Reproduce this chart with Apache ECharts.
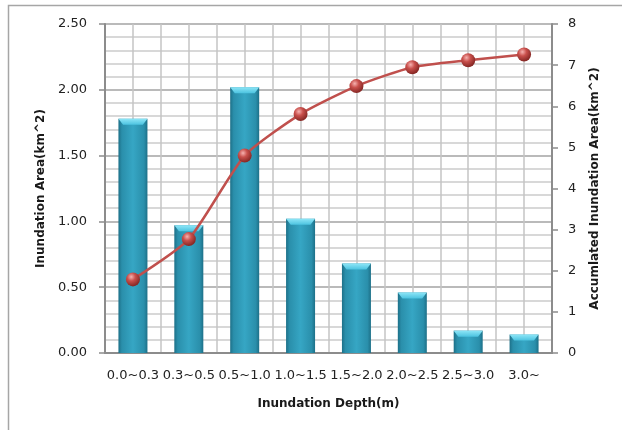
<!DOCTYPE html>
<html><head><meta charset="utf-8">
<script src="https://cdn.jsdelivr.net/npm/echarts@6/dist/echarts.min.js"></script>
<style>html,body{margin:0;padding:0;background:#fff}#c{width:622px;height:430px}</style>
</head><body><div id="c"></div>
<script>
const categories = ['0.0~0.3','0.3~0.5','0.5~1.0','1.0~1.5','1.5~2.0','2.0~2.5','2.5~3.0','3.0~'];
const areaValues = [1.78, 0.97, 2.02, 1.02, 0.68, 0.46, 0.17, 0.14];
const accumulatedValues = [1.79, 2.77, 4.80, 5.81, 6.49, 6.95, 7.12, 7.26];
const leftTicks = [0, 0.5, 1.0, 1.5, 2.0, 2.5];
const rightTicks = [0, 1, 2, 3, 4, 5, 6, 7, 8];

const font = 'DejaVu Sans';
const chart = echarts.init(document.getElementById('c'), null, {renderer: 'canvas'});
const barW = 29;
chart.setOption({
  animation: false,
  backgroundColor: '#fff',
  graphic: [{type: 'rect', shape: {x: 8.5, y: 5.5, width: 700, height: 500}, style: {fill: 'none', stroke: '#a6a6a6', lineWidth: 1.5}, silent: true}],
  grid: {left: 105, right: 70, top: 24, bottom: 77},
  xAxis: [{
    type: 'category', data: categories, boundaryGap: true,
    name: 'Inundation Depth(m)', nameLocation: 'middle', nameGap: 45,
    nameTextStyle: {fontFamily: font, fontWeight: 'bold', fontSize: 12, color: '#1a1a1a'},
    axisLine: {lineStyle: {color: '#8c8c8c', width: 2}},
    axisTick: {show: false},
    axisLabel: {interval: 0, margin: 16, fontFamily: font, fontSize: 13, color: '#222'},
    splitLine: {show: false}
  }, {
    type: 'value', min: 0, max: 16, interval: 1, show: true, position: 'top',
    axisLine: {show: false}, axisTick: {show: false}, axisLabel: {show: false},
    splitLine: {show: true, lineStyle: {color: '#c4c4c4', width: 1.5}}
  }],
  yAxis: [{
    type: 'value', min: 0, max: 2.5, interval: 0.5,
    name: 'Inundation Area(km^2)', nameLocation: 'middle', nameGap: 56, nameRotate: 90,
    nameTextStyle: {fontFamily: font, fontWeight: 'bold', fontSize: 12, color: '#1a1a1a'},
    axisLine: {show: true, lineStyle: {color: '#8c8c8c', width: 2}},
    axisTick: {show: true, length: 6, lineStyle: {color: '#8c8c8c', width: 1.5}},
    axisLabel: {margin: 18, fontFamily: font, fontSize: 13, color: '#222', formatter: v => v.toFixed(2)},
    splitLine: {show: true, lineStyle: {color: '#a3a3a3', width: 1.5}},
    minorTick: {show: false, splitNumber: 5},
    minorSplitLine: {show: true, lineStyle: {color: '#cccccc', width: 1.5}}
  }, {
    type: 'value', min: 0, max: 8, interval: 1, position: 'right',
    name: 'Accumlated Inundation Area(km^2)', nameLocation: 'middle', nameGap: 37, nameRotate: 90,
    nameTextStyle: {fontFamily: font, fontWeight: 'bold', fontSize: 12, color: '#1a1a1a', verticalAlign: 'top'},
    axisLine: {show: true, lineStyle: {color: '#8c8c8c', width: 2}},
    axisTick: {show: true, length: 6, lineStyle: {color: '#8c8c8c', width: 1.5}},
    axisLabel: {margin: 16, fontFamily: font, fontSize: 13, color: '#222'},
    splitLine: {show: false}
  }],
  series: [{
    type: 'bar', data: areaValues, barWidth: barW, yAxisIndex: 0, z: 2,
    itemStyle: {
      color: new echarts.graphic.LinearGradient(0, 0, 1, 0, [
        {offset: 0, color: '#1d7088'}, {offset: 0.12, color: '#2a8fab'},
        {offset: 0.5, color: '#36a6c4'}, {offset: 0.88, color: '#2a8fab'}, {offset: 1, color: '#1d7088'}
      ])
    }
  }, {
    type: 'pictorialBar', data: areaValues, yAxisIndex: 0, z: 3,
    symbol: 'path://M0,0L100,0L84,100L16,100Z', symbolSize: [barW, 6],
    symbolPosition: 'end', symbolOffset: [0, 0],
    itemStyle: {color: new echarts.graphic.LinearGradient(0, 0, 0, 1, [
      {offset: 0, color: '#8ee6f7'}, {offset: 1, color: '#4cc3e0'}
    ])}
  }, {
    type: 'line', data: accumulatedValues, yAxisIndex: 1, smooth: 0.2, z: 5,
    lineStyle: {color: '#c0504d', width: 2.5},
    symbol: 'circle', symbolSize: 14,
    itemStyle: {color: new echarts.graphic.RadialGradient(0.38, 0.32, 0.65, [
      {offset: 0, color: '#f6b2b0'}, {offset: 0.45, color: '#c9504c'}, {offset: 1, color: '#8a2a27'}
    ]), borderWidth: 0}
  }]
});
</script></body></html>
